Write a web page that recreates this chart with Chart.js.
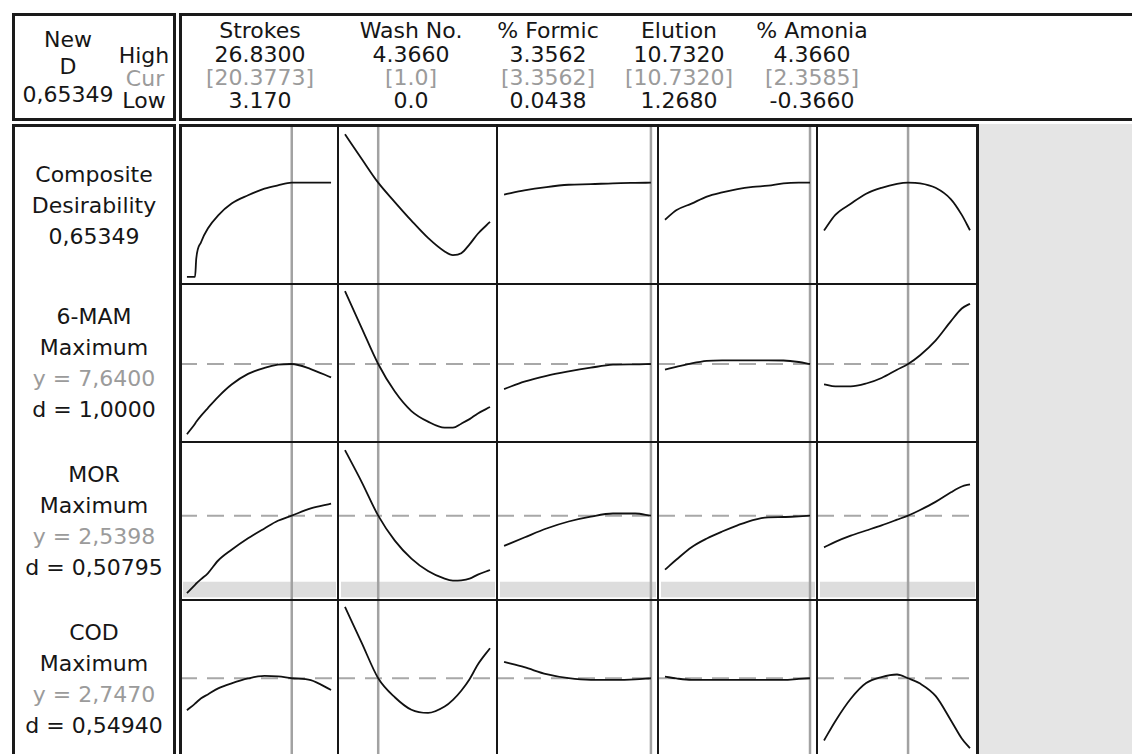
<!DOCTYPE html>
<html>
<head>
<meta charset="utf-8">
<script src="https://cdn.jsdelivr.net/npm/chart.js@4.4.1/dist/chart.umd.min.js"></script>
<style>
  html, body { margin: 0; padding: 0; }
  body {
    width: 1132px; height: 754px; overflow: hidden; position: relative; background: #fff;
    font-family: "DejaVu Sans", sans-serif; font-size: 22px; color: #161616;
  }
  .box { position: absolute; box-sizing: border-box; border: 3px solid #1a1a1a; }
  .line { position: absolute; background: #161616; }
  .t { position: absolute; white-space: nowrap; line-height: 1; transform: translate(-50%, -50%); }
  .gray { color: #9b9b9b; }
  canvas { position: absolute; }
</style>
</head>
<body>
<script>
// factor settings (header)
const factorNames = ["Strokes", "Wash No.", "% Formic", "Elution", "% Amonia"];
const factorLow = [3.17, 0.0, 0.0438, 1.268, -0.366];
const factorHigh = [26.83, 4.366, 3.3562, 10.732, 4.366];
const factorCur = [20.3773, 1.0, 3.3562, 10.732, 2.3585];
const highText = ["26.8300", "4.3660", "3.3562", "10.7320", "4.3660"];
const curText = ["[20.3773]", "[1.0]", "[3.3562]", "[10.7320]", "[2.3585]"];
const lowText = ["3.170", "0.0", "0.0438", "1.2680", "-0.3660"];

const strokesX = [3.17, 4.5, 4.7, 5.5, 6.6, 8.3, 10.5, 13.2, 15.9, 18.1, 20.3773, 23.5, 26.83];
const washX = [0, 0.5, 1.0, 1.5, 2.0, 2.5, 3.0, 3.25, 3.5, 3.75, 4.0, 4.366];
const formicX = [0.0438, 0.5, 1.0, 1.5, 2.0, 2.5, 3.0, 3.3562];
const elutionX = [1.268, 2, 3, 4, 5, 6, 7, 8, 9, 10, 10.732];
const amoniaX = [-0.366, 0, 0.5, 1.0, 1.5, 2.0, 2.3585, 2.75, 3.25, 3.75, 4.1, 4.366];

// composite desirability
const compStrokes = [0, 0, 0.127, 0.242, 0.335, 0.427, 0.509, 0.566, 0.612, 0.635, 0.65349, 0.65349, 0.65349];
const compWash = [0.99, 0.820, 0.65349, 0.519, 0.390, 0.270, 0.176, 0.150, 0.163, 0.225, 0.299, 0.381];
const compFormic = [0.571, 0.600, 0.623, 0.639, 0.643, 0.649, 0.652, 0.65349];
const compElution = [0.396, 0.462, 0.508, 0.557, 0.586, 0.609, 0.624, 0.633, 0.649, 0.65349, 0.65349];
const compAmonia = [0.321, 0.430, 0.507, 0.577, 0.618, 0.645, 0.65349, 0.649, 0.618, 0.538, 0.43, 0.323];

// 6-MAM
const mamStrokes = [3.46, 4.09, 4.20, 4.57, 5.02, 5.69, 6.42, 7.05, 7.41, 7.60, 7.64, 7.34, 6.84];
const mamWash = [11.97, 9.79, 7.64, 6.00, 4.84, 4.21, 3.85, 3.85, 4.09, 4.36, 4.70, 5.08];
const mamFormic = [6.15, 6.59, 6.94, 7.20, 7.42, 7.60, 7.62, 7.64];
const mamElution = [7.31, 7.47, 7.68, 7.83, 7.86, 7.86, 7.86, 7.86, 7.85, 7.76, 7.64];
const mamAmonia = [6.43, 6.31, 6.31, 6.48, 6.81, 7.30, 7.64, 8.16, 9.03, 10.19, 10.94, 11.23];

// MOR
const morStrokes = [0.667, 0.868, 0.899, 1.006, 1.146, 1.455, 1.714, 1.992, 2.231, 2.415, 2.5398, 2.714, 2.828];
const morWash = [4.122, 3.358, 2.5398, 1.936, 1.501, 1.201, 1.015, 0.969, 0.976, 1.015, 1.114, 1.225];
const morFormic = [1.810, 2.011, 2.229, 2.398, 2.516, 2.591, 2.591, 2.5398];
const morElution = [1.235, 1.472, 1.777, 1.987, 2.156, 2.306, 2.434, 2.500, 2.507, 2.524, 2.5398];
const morAmonia = [1.772, 1.905, 2.055, 2.180, 2.306, 2.441, 2.5398, 2.676, 2.872, 3.104, 3.244, 3.297];
const morBand = [0.565, 0.942];

// COD
const codStrokes = [2.246, 2.351, 2.368, 2.433, 2.494, 2.588, 2.667, 2.743, 2.783, 2.775, 2.747, 2.717, 2.564];
const codWash = [3.863, 3.304, 2.747, 2.450, 2.254, 2.204, 2.304, 2.409, 2.552, 2.732, 2.962, 3.217];
const codFormic = [3.001, 2.919, 2.811, 2.747, 2.721, 2.721, 2.729, 2.747];
const codElution = [2.772, 2.744, 2.721, 2.721, 2.721, 2.721, 2.721, 2.721, 2.721, 2.736, 2.747];
const codAmonia = [1.774, 2.076, 2.426, 2.671, 2.766, 2.805, 2.747, 2.663, 2.470, 2.087, 1.805, 1.652];

// response rows
const rowLabels = [
    ["Composite", "Desirability", "0,65349"],
    ["6-MAM", "Maximum", "y = 7,6400", "d = 1,0000"],
    ["MOR", "Maximum", "y = 2,5398", "d = 0,50795"],
    ["COD", "Maximum", "y = 2,7470", "d = 0,54940"],
];
const responseCur = [0.65349, 7.64, 2.5398, 2.747];

const factorX = [strokesX, washX, formicX, elutionX, amoniaX];
const curves = [
    [compStrokes, compWash, compFormic, compElution, compAmonia],
    [mamStrokes, mamWash, mamFormic, mamElution, mamAmonia],
    [morStrokes, morWash, morFormic, morElution, morAmonia],
    [codStrokes, codWash, codFormic, codElution, codAmonia],
];

// layout
const colEdges = [180, 338, 497, 658, 817, 977];
const rowEdges = [127, 284, 442, 600, 758];
const yRanges = [[-0.05, 1.04], [3.0, 12.4], [0.5, 4.32], [1.5, 3.97]];
const xPad = 0.0482;

function addDiv(cls, left, top, width, height, extra) {
    const d = document.createElement("div");
    d.className = cls;
    Object.assign(d.style, { left: left + "px", top: top + "px", width: width + "px", height: height + "px" }, extra || {});
    document.body.appendChild(d);
    return d;
}

function addText(str, x, y, gray) {
    const d = document.createElement("div");
    d.className = "t" + (gray ? " gray" : "");
    d.textContent = str;
    d.style.left = x + "px";
    d.style.top = y + "px";
    document.body.appendChild(d);
}

// gray area right of the grid
addDiv("", 979, 124, 160, 640, { position: "absolute", background: "#e5e5e5" });

// shaded region of the MOR row
const bandPlugin = {
    id: "band",
    beforeDatasetsDraw(chart) {
        const { ctx, chartArea, scales } = chart;
        const top = scales.y.getPixelForValue(morBand[1]);
        const bottom = scales.y.getPixelForValue(morBand[0]);
        ctx.save();
        ctx.fillStyle = "#dddddd";
        ctx.fillRect(chartArea.left + 3, top, chartArea.right - chartArea.left - 5, bottom - top);
        ctx.restore();
    },
};

for (let r = 0; r < 4; r++) {
    for (let c = 0; c < 5; c++) {
        const w = colEdges[c + 1] - colEdges[c];
        const h = rowEdges[r + 1] - rowEdges[r];
        const canvas = document.createElement("canvas");
        canvas.width = w;
        canvas.height = h;
        Object.assign(canvas.style, { left: colEdges[c] + "px", top: rowEdges[r] + "px", width: w + "px", height: h + "px" });
        document.body.appendChild(canvas);

        const span = factorHigh[c] - factorLow[c];
        const xMin = factorLow[c] - xPad * span;
        const xMax = factorHigh[c] + xPad * span;
        const [yMin, yMax] = yRanges[r];

        const datasets = [
            {
                data: factorX[c].map((x, i) => ({ x: x, y: curves[r][c][i] })),
                borderColor: "#111111",
                borderWidth: 1.8,
                cubicInterpolationMode: "monotone",
            },
            {
                data: [{ x: factorCur[c], y: yMin }, { x: factorCur[c], y: yMax }],
                borderColor: "#a2a2a2",
                borderWidth: 2.5,
            },
        ];
        if (r > 0) {
            datasets.push({
                data: [{ x: xMin, y: responseCur[r] }, { x: xMax, y: responseCur[r] }],
                borderColor: "#a8a8a8",
                borderWidth: 2,
                borderDash: [17, 10],
            });
        }

        new Chart(canvas, {
            type: "line",
            data: { datasets: datasets },
            options: {
                responsive: false,
                animation: false,
                events: [],
                layout: { padding: 0 },
                elements: { point: { radius: 0 } },
                scales: {
                    x: { type: "linear", display: false, min: xMin, max: xMax },
                    y: { type: "linear", display: false, min: yMin, max: yMax },
                },
                plugins: { legend: { display: false }, tooltip: { enabled: false } },
            },
            plugins: r === 2 ? [bandPlugin] : [],
        });
    }
}

// frames
addDiv("box", 12, 13, 164, 108);
addDiv("box", 179, 13, 970, 108);
addDiv("box", 12, 124, 164, 700);
addDiv("box", 179, 124, 800, 700);
for (let c = 1; c < 5; c++) addDiv("line", colEdges[c] - 1, 124, 2, 640);
for (let r = 1; r < 4; r++) addDiv("line", 179, rowEdges[r] - 1, 800, 2);

// header text
addText("New", 68, 40);
addText("D", 68, 67);
addText("0,65349", 68, 95);
addText("High", 144, 56);
addText("Cur", 145, 79, true);
addText("Low", 144, 101);
const headerX = [260, 411, 548, 679, 812];
for (let c = 0; c < 5; c++) {
    addText(factorNames[c], headerX[c], 31);
    addText(highText[c], headerX[c], 55);
    addText(curText[c], headerX[c], 78, true);
    addText(lowText[c], headerX[c], 101);
}

// row labels
for (let r = 0; r < 4; r++) {
    const mid = (rowEdges[r] + rowEdges[r + 1]) / 2;
    const lines = rowLabels[r];
    lines.forEach((s, i) => {
        const y = mid + (i - (lines.length - 1) / 2) * 31;
        addText(s, 94, y, r > 0 && i === 2);
    });
}
</script>
</body>
</html>
